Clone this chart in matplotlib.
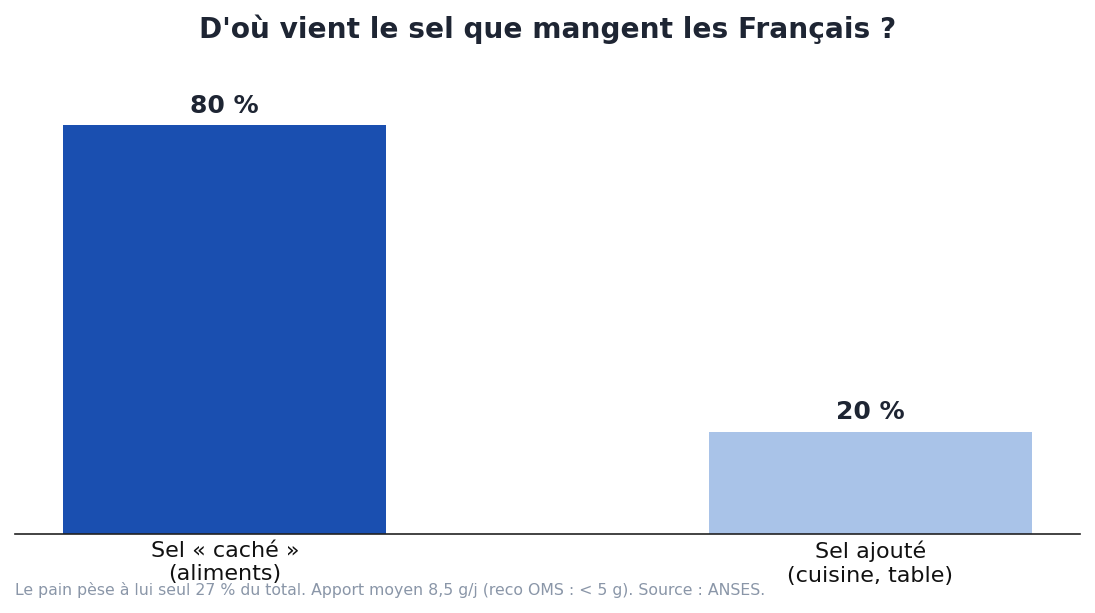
import matplotlib
matplotlib.use("Agg")
import matplotlib.pyplot as plt

categories = ["Sel « caché »\n(aliments)", "Sel ajouté\n(cuisine, table)"]
values = [80, 20]
value_labels = ["80 %", "20 %"]
colors = ["#1a4fb0", "#a9c3e8"]

title = "D'où vient le sel que mangent les Français ?"
note = "Le pain pèse à lui seul 27 % du total. Apport moyen 8,5 g/j (reco OMS : < 5 g). Source : ANSES."

fig = plt.figure(figsize=(10.95, 6.13), dpi=100)
ax = fig.add_axes([0.0137, 0.1289, 0.9726, 0.7667])

x = range(len(categories))
bars = ax.bar(x, values, width=0.5, color=colors)

for b, lab in zip(bars, value_labels):
    ax.text(b.get_x() + b.get_width() / 2, b.get_height() + 1.5, lab,
            ha="center", va="bottom", fontsize=18, fontweight="bold", color="#1e2533")

ax.set_ylim(0, 92)
ax.set_xticks(list(x))
ax.set_xticklabels(categories, fontsize=16, color="#111111")
ax.tick_params(axis="x", length=0, pad=5)
ax.set_yticks([])
for s in ["top", "right", "left"]:
    ax.spines[s].set_visible(False)
ax.spines["bottom"].set_color("#222222")
ax.spines["bottom"].set_linewidth(1.2)

fig.text(0.5, 0.952, title, ha="center", va="center", fontsize=20.2,
         fontweight="bold", color="#1e2533")
fig.text(0.0137, 0.037, note, ha="left", va="center", fontsize=11.3, color="#8a96a8")

fig.savefig("out.png", dpi=100)
